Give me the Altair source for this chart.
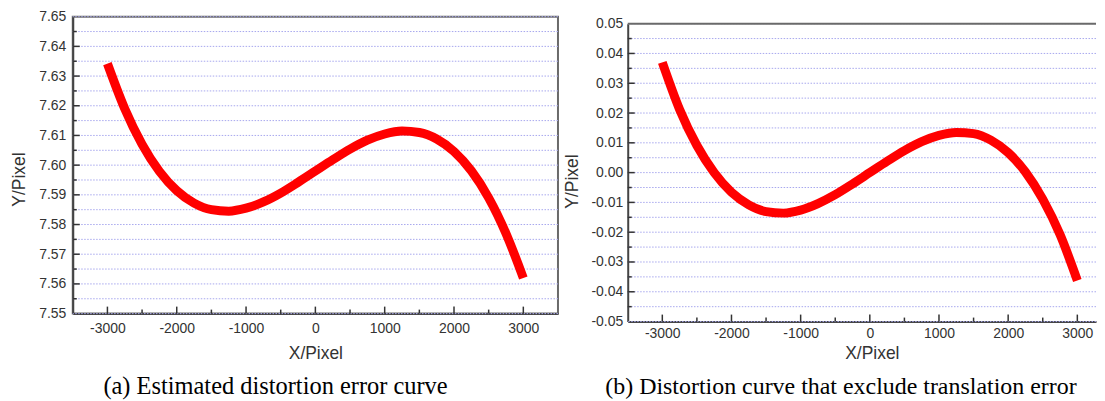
import altair as alt
import pandas as pd

# ---- data ----
x_vals = [-3000, -2750, -2500, -2250, -2000, -1750, -1500, -1250, -1000, -750, -500, -250,
          0, 250, 500, 750, 1000, 1250, 1500, 1750, 2000, 2250, 2500, 2750, 3000]
y_estimated = [7.6342, 7.6190, 7.6070, 7.5979, 7.5914, 7.5872, 7.5850, 7.5845, 7.5855, 7.5876,
               7.5906, 7.5942, 7.5980, 7.6018, 7.6054, 7.6084, 7.6105, 7.6115, 7.6110, 7.6088,
               7.6046, 7.5981, 7.5890, 7.5770, 7.5620]
y_excluded = [0.0370, 0.0212, 0.0091, 0.0000, -0.0066, -0.0108, -0.0131, -0.0136, -0.0126, -0.0104,
              -0.0074, -0.0038, 0.0000, 0.0038, 0.0074, 0.0104, 0.0125, 0.0135, 0.0131, 0.0109,
              0.0067, 0.0002, -0.0089, -0.0208, -0.0362]

x_major = [-3000, -2000, -1000, 0, 1000, 2000, 3000]
x_minor = [-2500, -1500, -500, 500, 1500, 2500]
ya_major = [7.55, 7.56, 7.57, 7.58, 7.59, 7.60, 7.61, 7.62, 7.63, 7.64, 7.65]
ya_minor = [7.555, 7.565, 7.575, 7.585, 7.595, 7.605, 7.615, 7.625, 7.635, 7.645]
yb_major = [-0.05, -0.04, -0.03, -0.02, -0.01, 0.00, 0.01, 0.02, 0.03, 0.04, 0.05]
yb_minor = [-0.045, -0.035, -0.025, -0.015, -0.005, 0.005, 0.015, 0.025, 0.035, 0.045]

caption_a = "(a) Estimated distortion error curve"
caption_b = "(b) Distortion curve that exclude translation error"

FONT = "Liberation Sans"
SERIF = "Liberation Serif"
TXT = "#333333"
FRAME = "#6a6a6a"


def make_panel(ys, ymaj, ymin, ydom, xdom, w, h, yrange, caption, cap_dx, cap_offset, cap_size,
               xlab_pad, xtitle_pad, xtitle_x, ylab_pad, ytitle_pad, ytitle_y, top_border):
    xsc = alt.Scale(domain=xdom, nice=False, zero=False)
    if yrange is None:
        ysc = alt.Scale(domain=ydom, nice=False, zero=False)
    else:
        ysc = alt.Scale(domain=ydom, nice=False, zero=False, range=yrange)
    xax = alt.Axis(values=x_major, title="X/Pixel", ticks=False, grid=False,
                   domainColor="#444444", domainWidth=2,
                   labelExpr="replace(format(datum.value, 'd'), '\u2212', '-')",
                   labelFont=FONT, labelFontSize=14, labelColor=TXT, labelPadding=xlab_pad,
                   titleFont=FONT, titleFontSize=17.5, titleFontWeight="normal",
                   titleColor=TXT, titlePadding=xtitle_pad, titleX=xtitle_x)
    yax = alt.Axis(values=ymaj, title="Y/Pixel", ticks=False, grid=False,
                   domainColor="#444444", domainWidth=2,
                   labelExpr="replace(format(datum.value, '.2f'), '\u2212', '-')",
                   labelFont=FONT, labelFontSize=14, labelColor=TXT, labelPadding=ylab_pad,
                   titleFont=FONT, titleFontSize=17.5, titleFontWeight="normal",
                   titleColor=TXT, titlePadding=ytitle_pad, titleY=ytitle_y)
    X = alt.X("x:Q", scale=xsc, axis=xax)
    Y = alt.Y("y:Q", scale=ysc, axis=yax)

    grid = alt.Chart(pd.DataFrame({"y": ymaj + ymin})).mark_rule(
        color="#a8a8ee", strokeWidth=1, strokeDash=[1.5, 1.5]).encode(y=Y)
    curve = alt.Chart(pd.DataFrame({"x": x_vals, "y": ys})).mark_line(
        color="#ff0000", strokeWidth=9, strokeCap="butt", interpolate="monotone").encode(x=X, y=Y)
    ytm = alt.Chart(pd.DataFrame({"y": ymaj[1:-1]})).mark_rule(
        color="#333333", strokeWidth=1.5).encode(y=Y, x=alt.value(0), x2=alt.value(7))
    ytn = alt.Chart(pd.DataFrame({"y": ymin})).mark_rule(
        color="#333333", strokeWidth=1.5).encode(y=Y, x=alt.value(0), x2=alt.value(4))
    xtm = alt.Chart(pd.DataFrame({"x": x_major})).mark_rule(
        color="#333333", strokeWidth=1.5).encode(x=X, y=alt.value(h), y2=alt.value(h - 7))
    xtn = alt.Chart(pd.DataFrame({"x": x_minor})).mark_rule(
        color="#333333", strokeWidth=1.5).encode(x=X, y=alt.value(h), y2=alt.value(h - 4))
    layers = [grid, curve, ytm, ytn, xtm, xtn]
    if top_border:
        border = alt.Chart(pd.DataFrame({"y": [ymaj[-1]]})).mark_rule(
            color=FRAME, strokeWidth=2).encode(y=Y)
        layers.append(border)

    props = dict(
        width=w, height=h,
        title=alt.TitleParams(caption, orient="bottom", anchor="middle", frame="group",
                              font=SERIF, fontSize=cap_size, fontWeight="normal", color="#000000",
                              dx=cap_dx, offset=cap_offset))
    if top_border:
        props["view"] = alt.ViewBackground(strokeOpacity=0)
    return alt.layer(*layers).properties(**props)


left = make_panel(y_estimated, ya_major, ya_minor, [7.55, 7.65], [-3500, 3500], 487, 298, None,
                  caption_a, -40, 13, 24.5, 8, 9, 243.5, 7, 10, 163, False)
right = make_panel(y_excluded, yb_major, yb_minor, [-0.05, 0.05], [-3500, 3270], 470, 306, [306, 7],
                   caption_b, -21, 13, 24, 5, 4, 245, 5, 9, 165, True)

chart = alt.hconcat(left, right, spacing=4).properties(
    padding={"left": 1, "top": 0, "right": 0, "bottom": 0},
    background="#ffffff",
).configure_view(stroke=FRAME, strokeWidth=2)

chart.save("out.html", embed_options={"renderer": "svg", "actions": False})
